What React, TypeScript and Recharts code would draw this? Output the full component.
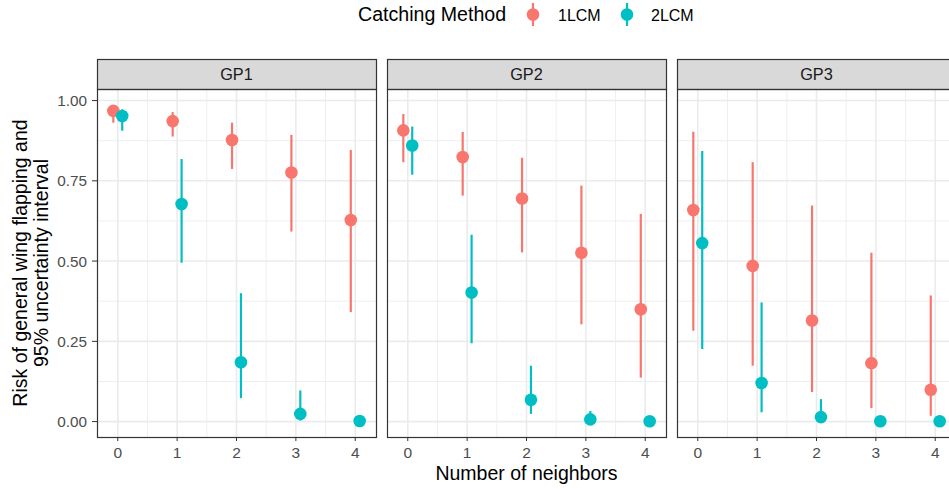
import React from 'react';
import { ScatterChart, Scatter, XAxis, YAxis, CartesianGrid, ErrorBar } from 'recharts';

const neighbors = [0, 1, 2, 3, 4];
const panelNames = ['GP1', 'GP2', 'GP3'];
const methods = ['1LCM', '2LCM'];
const colors = ['#F8766D', '#00BFC4'];
const yTicks = [0, 0.25, 0.5, 0.75, 1];
const yMinor = [0.125, 0.375, 0.625, 0.875];
const xMinor = [0.5, 1.5, 2.5, 3.5];

// GP1
const gp1_1LCM = [0.968, 0.936, 0.877, 0.776, 0.628];
const gp1_1LCM_lo = [0.931, 0.888, 0.787, 0.592, 0.341];
const gp1_1LCM_hi = [0.985, 0.964, 0.931, 0.893, 0.846];
const gp1_2LCM = [0.952, 0.678, 0.185, 0.024, 0.002];
const gp1_2LCM_lo = [0.906, 0.495, 0.073, 0.003, 0.0];
const gp1_2LCM_hi = [0.973, 0.818, 0.4, 0.097, 0.01];
// GP2
const gp2_1LCM = [0.907, 0.824, 0.695, 0.526, 0.35];
const gp2_1LCM_lo = [0.808, 0.704, 0.527, 0.303, 0.137];
const gp2_1LCM_hi = [0.958, 0.902, 0.822, 0.735, 0.647];
const gp2_2LCM = [0.86, 0.402, 0.068, 0.007, 0.001];
const gp2_2LCM_lo = [0.769, 0.244, 0.024, 0.0, 0.0];
const gp2_2LCM_hi = [0.919, 0.582, 0.174, 0.033, 0.008];
// GP3
const gp3_1LCM = [0.659, 0.485, 0.315, 0.182, 0.099];
const gp3_1LCM_lo = [0.283, 0.174, 0.092, 0.042, 0.018];
const gp3_1LCM_hi = [0.903, 0.808, 0.673, 0.526, 0.393];
const gp3_2LCM = [0.556, 0.12, 0.014, 0.001, 0.001];
const gp3_2LCM_lo = [0.226, 0.029, 0.0, 0.0, 0.0];
const gp3_2LCM_hi = [0.843, 0.371, 0.07, 0.01, 0.006];

const panelSeries = [
  [
    [gp1_1LCM, gp1_1LCM_lo, gp1_1LCM_hi],
    [gp1_2LCM, gp1_2LCM_lo, gp1_2LCM_hi],
  ],
  [
    [gp2_1LCM, gp2_1LCM_lo, gp2_1LCM_hi],
    [gp2_2LCM, gp2_2LCM_lo, gp2_2LCM_hi],
  ],
  [
    [gp3_1LCM, gp3_1LCM_lo, gp3_1LCM_hi],
    [gp3_2LCM, gp3_2LCM_lo, gp3_2LCM_hi],
  ],
];

const DODGE = 0.075;
const FONT = '"Liberation Sans", Arial, Helvetica, sans-serif';
const X_DOMAIN: [number, number] = [-0.35, 4.35];
const Y_DOMAIN: [number, number] = [-0.048, 1.036];

const W = 949;
const H = 489;
const PANEL_TOP = 89;
const PANEL_BOTTOM = 437;
const PANEL_W = 279;
const PANEL_LEFTS = [97, 387, 677];
const STRIP_TOP = 59;

function buildData(vals: number[][], mi: number) {
  const [v, lo, hi] = vals;
  return neighbors.map((n, i) => ({
    x: n + (mi === 0 ? -DODGE : DODGE),
    y: v[i],
    err: [v[i] - lo[i], hi[i] - v[i]],
  }));
}

function Panel({ idx }: { idx: number }) {
  const first = idx === 0;
  const left = first ? 0 : PANEL_LEFTS[idx] - 5;
  const width = first ? PANEL_LEFTS[0] + PANEL_W + 5 : PANEL_W + 10;
  return (
    <div style={{ position: 'absolute', left, top: 0 }}>
      <ScatterChart
        width={width}
        height={H}
        margin={{ top: PANEL_TOP, right: 5, bottom: 0, left: first ? 0 : 5 }}
      >
        <CartesianGrid
          horizontalValues={yMinor}
          verticalValues={xMinor}
          stroke="#EBEBEB"
          strokeWidth={0.8}
          fill="#FFFFFF"
        />
        <CartesianGrid
          horizontalValues={yTicks}
          verticalValues={neighbors}
          stroke="#EBEBEB"
          strokeWidth={1.6}
        />
        <XAxis
          type="number"
          dataKey="x"
          domain={X_DOMAIN}
          ticks={neighbors}
          allowDataOverflow
          axisLine={false}
          tickLine={{ stroke: '#333333', strokeWidth: 1 }}
          tickSize={4}
          tickMargin={6}
          height={H - PANEL_BOTTOM}
          tick={{ fill: '#4D4D4D', fontSize: 15.5, fontFamily: FONT }}
          interval={0}
        />
        <YAxis
          type="number"
          dataKey="y"
          domain={Y_DOMAIN}
          ticks={yTicks}
          allowDataOverflow
          hide={!first}
          width={PANEL_LEFTS[0]}
          axisLine={false}
          tickLine={{ stroke: '#333333', strokeWidth: 1 }}
          tickSize={5}
          tickMargin={5}
          tickFormatter={(v: number) => v.toFixed(2)}
          tick={{ fill: '#4D4D4D', fontSize: 15.3, fontFamily: FONT }}
          interval={0}
        />
        {methods.map((m, mi) => (
          <Scatter
            key={m}
            name={m}
            data={buildData(panelSeries[idx][mi], mi)}
            fill={colors[mi]}
            isAnimationActive={false}
            shape={(p: any) => <circle cx={p.cx} cy={p.cy} r={6.3} fill={colors[mi]} />}
          >
            <ErrorBar
              dataKey="err"
              direction="y"
              width={0}
              stroke={colors[mi]}
              strokeWidth={2.2}
              isAnimationActive={false}
            />
          </Scatter>
        ))}
      </ScatterChart>
    </div>
  );
}

export default function App() {
  return (
    <div
      style={{
        position: 'absolute',
        left: 0,
        top: 0,
        width: W,
        height: H,
        overflow: 'hidden',
        background: '#FFFFFF',
        fontFamily: FONT,
      }}
    >
      {panelNames.map((_, i) => (
        <Panel key={i} idx={i} />
      ))}
      <svg
        width={W}
        height={H}
        style={{ position: 'absolute', left: 0, top: 0, pointerEvents: 'none' }}
      >
        {panelNames.map((name, i) => (
          <g key={name}>
            <rect
              x={PANEL_LEFTS[i] + 0.5}
              y={STRIP_TOP + 0.5}
              width={PANEL_W}
              height={PANEL_TOP - STRIP_TOP}
              fill="#D9D9D9"
              stroke="#333333"
              strokeWidth={1.2}
            />
            <text
              x={PANEL_LEFTS[i] + PANEL_W / 2}
              y={STRIP_TOP + (PANEL_TOP - STRIP_TOP) / 2 + 6}
              textAnchor="middle"
              fontSize={16.3}
              fill="#1A1A1A"
              fontFamily={FONT}
            >
              {name}
            </text>
            <rect
              x={PANEL_LEFTS[i] + 0.5}
              y={PANEL_TOP + 0.5}
              width={PANEL_W}
              height={PANEL_BOTTOM - PANEL_TOP}
              fill="none"
              stroke="#333333"
              strokeWidth={1.2}
            />
          </g>
        ))}
        {/* Y axis title */}
        <text
          transform={`translate(27, ${(PANEL_TOP + PANEL_BOTTOM) / 2}) rotate(-90)`}
          textAnchor="middle"
          fontSize={19.5}
          fill="#000000"
          fontFamily={FONT}
        >
          <tspan x={0} dy={0}>Risk of general wing flapping and</tspan>
          <tspan x={0} dy={21}>95% uncertainty interval</tspan>
        </text>
        {/* X axis title */}
        <text
          x={(PANEL_LEFTS[0] + PANEL_LEFTS[2] + PANEL_W) / 2}
          y={480}
          textAnchor="middle"
          fontSize={19.5}
          fill="#000000"
          fontFamily={FONT}
        >
          Number of neighbors
        </text>
        {/* Legend */}
        <text x={358} y={20.5} fontSize={19.6} fill="#000000" fontFamily={FONT}>
          Catching Method
        </text>
        {methods.map((m, mi) => (
          <g key={m}>
            <line
              x1={533 + mi * 94}
              x2={533 + mi * 94}
              y1={3}
              y2={26}
              stroke={colors[mi]}
              strokeWidth={2.2}
            />
            <circle cx={533 + mi * 94} cy={14.5} r={6.3} fill={colors[mi]} />
            <text x={558 + mi * 93} y={20.5} fontSize={16} fill="#000000" fontFamily={FONT}>
              {m}
            </text>
          </g>
        ))}
      </svg>
    </div>
  );
}
